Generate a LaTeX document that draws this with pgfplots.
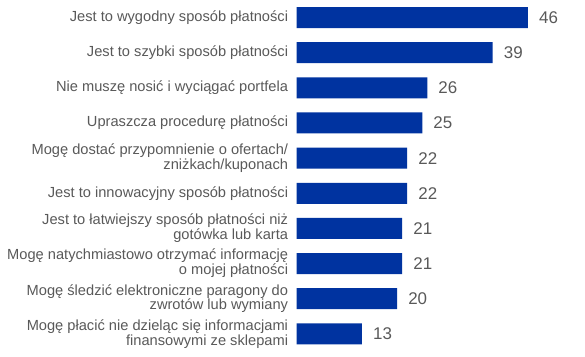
\documentclass[border=0pt]{standalone}
\usepackage{fontspec}
\setmainfont{Liberation Sans}
\usepackage{pgfplots}
\pgfplotsset{compat=1.18}
\definecolor{barblue}{RGB}{0,51,160}
\definecolor{txtgray}{RGB}{89,89,89}
\begin{document}
\begin{tikzpicture}
\begin{axis}[
  at={(296.5bp,0bp)}, anchor=south west,
  scale only axis, width=288.5bp, height=357bp,
  xbar, bar width=21bp,
  xmin=0, xmax=57.35, ymin=-0.5, ymax=9.66, y dir=reverse,
  axis line style={draw=none}, tick style={draw=none},
  /pgf/number format/assume math mode=true,
  xtick=\empty, ytick={0,...,9},
  yticklabels={
    {Jest to wygodny sposób płatności},
    {Jest to szybki sposób płatności},
    {Nie muszę nosić i wyciągać portfela},
    {Upraszcza procedurę płatności},
    {Mogę dostać przypomnienie o ofertach/\\zniżkach/kuponach},
    {Jest to innowacyjny sposób płatności},
    {Jest to łatwiejszy sposób płatności niż\\gotówka lub karta},
    {Mogę natychmiastowo otrzymać informację\\o mojej płatności},
    {Mogę śledzić elektroniczne paragony do\\zwrotów lub wymiany},
    {Mogę płacić nie dzieląc się informacjami\\finansowymi ze sklepami}
  },
  yticklabel style={align=right, font=\fontsize{14.7}{13}\selectfont, text=txtgray, inner sep=0pt, xshift=-4bp},
  nodes near coords,
  nodes near coords style={anchor=west, inner sep=0pt, xshift=11bp, font=\fontsize{17}{17}\selectfont, text=txtgray},
  clip=false,
]
\addplot[fill=barblue, draw=none] coordinates {(46,0) (39,1) (26,2) (25,3) (22,4) (22,5) (21,6) (21,7) (20,8) (13,9)};
\end{axis}
\pgfresetboundingbox
\path (0,0) rectangle (585bp,357bp);
\end{tikzpicture}
\end{document}
